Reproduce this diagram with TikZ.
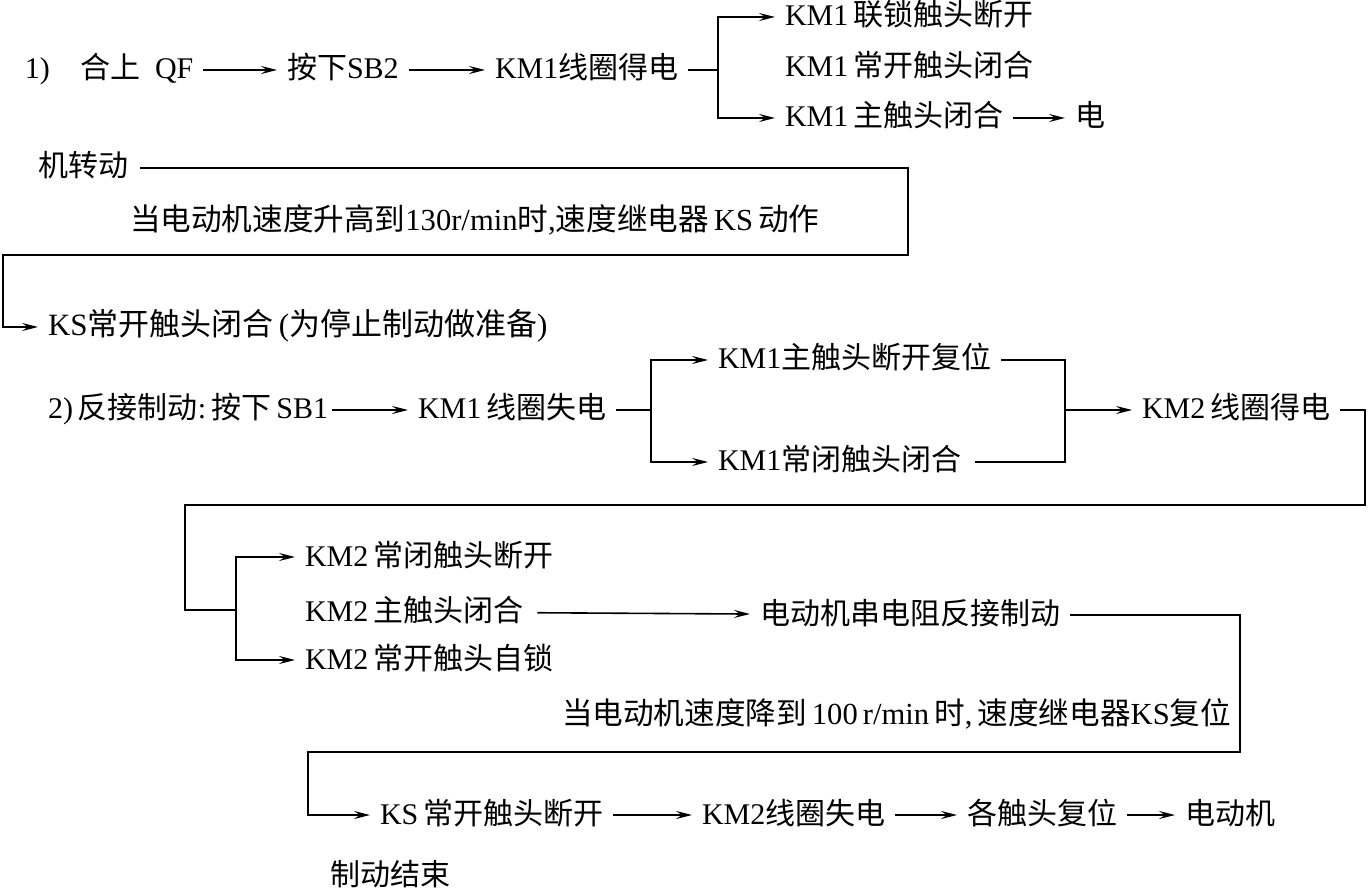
\documentclass[tikz,border=0pt]{standalone}
\usepackage{fontspec}
\setmainfont{Liberation Serif}[Scale=1.0]
\newfontfamily\cjk{Noto Sans CJK SC}
\newcommand\zh[1]{{\cjk #1}}
\usetikzlibrary{arrows.meta}
\begin{document}
\begin{tikzpicture}[x=0.5pt,y=-0.5pt,
  t/.style={inner sep=0pt, outer sep=0pt, anchor=west, font=\fontsize{15}{17}\selectfont, text height=12pt, text depth=3pt},
  big/.style={font=\fontsize{15.3}{18}\selectfont},
  ln/.style={line width=0.8pt},
  arr/.style={ln,-{Stealth[length=8pt,width=4pt,inset=3pt]}, shorten >=5pt},
  nn/.style={arr, shorten <=5pt}]
\useasboundingbox (0,0) rectangle (1369,892);
% row 1
\node[t] (n1) at (25,70) {1)};
\node[t] (hs) at (80,70) {\zh{合上}\ \ QF};
\node[t] (sb2) at (287,70) {\zh{按下}SB2};
\node[t] (km1on) at (495,70) {KM1\zh{线圈得电}};
\coordinate (b1) at (718,70);
\node[t] (lock) at (785,17) {KM1\,\zh{联锁触头断开}};
\node[t] (kmo) at (785,68) {KM1\,\zh{常开触头闭合}};
\node[t] (kmm) at (785,118) {KM1\,\zh{主触头闭合}};
\node[t] (dian) at (1075,118) {\zh{电}};
\draw[nn] (hs) -- (sb2);
\draw[nn] (sb2) -- (km1on);
\draw[ln, shorten <=5pt] (km1on.east) -- (b1);
\draw[arr] (b1) |- (lock.west);
\draw[arr] (b1) |- (kmm.west);
\draw[nn] (kmm) -- (dian);
% motor turns
\node[t] (jzd) at (38,168) {\zh{机转动}};
\node[t,big] (sp1) at (130,222) {\zh{当电动机速度升高到}130r/min\zh{时},\zh{速度继电器}\,KS\,\zh{动作}};
\node[t,font=\fontsize{15.5}{18}\selectfont] (ks) at (48,327) {KS\zh{常开触头闭合}\,(\zh{为停止制动做准备})};
\coordinate (c1) at (908,255);
\coordinate (c2) at (3,255);
\draw[arr, shorten <=6pt] (jzd.east) -| (c1) -- (c2) |- (ks.west);
% row 2
\node[t] (fj) at (48,410) {2)\,\zh{反接制动}:\,\zh{按下}\,SB1};
\node[t] (km1off) at (418,410) {KM1\,\zh{线圈失电}};
\coordinate (b2) at (651,410);
\node[t] (km1brk) at (718,360) {KM1\zh{主触头断开复位}};
\node[t] (km1nc) at (718,462) {KM1\zh{常闭触头闭合}};
\coordinate (j1) at (1065,410);
\node[t] (km2on) at (1142,410) {KM2\,\zh{线圈得电}};
\draw[nn, shorten <=2pt] (fj) -- (km1off);
\draw[ln, shorten <=5pt] (km1off.east) -- (b2);
\draw[arr] (b2) |- (km1brk.west);
\draw[arr] (b2) |- (km1nc.west);
\draw[ln, shorten <=5pt] (km1brk.east) -| (j1);
\draw[ln, shorten <=7pt] (km1nc.east) -| (j1);
\draw[arr] (j1) -- (km2on.west);
% KM2 branch
\coordinate (d1) at (1365,505);
\coordinate (d2) at (185,505);
\coordinate (b3) at (236,610);
\node[t] (km2nc) at (305,557) {KM2\,\zh{常闭触头断开}};
\node[t] (km2m) at (305,612) {KM2\,\zh{主触头闭合}};
\node[t] (km2no) at (305,660) {KM2\,\zh{常开触头自锁}};
\draw[ln, shorten <=5pt] (km2on.east) -| (d1) -- (d2) |- (b3);
\draw[arr] (b3) |- (km2nc.west);
\draw[arr] (b3) |- (km2no.west);
\node[t] (ddj) at (760,615) {\zh{电动机串电阻反接制动}};
\draw[nn, shorten <=7pt] (km2m) -- (ddj);
\node[t,big] (sp2) at (562,715) {\zh{当电动机速度降到}\,100\,r/min\,\zh{时},\,\zh{速度继电器}KS\zh{复位}};
\coordinate (e1) at (1240,752);
\coordinate (e2) at (308,752);
\node[t] (ksoff) at (380,815) {KS\,\zh{常开触头断开}};
\draw[arr, shorten <=5pt] (ddj.east) -| (e1) -- (e2) |- (ksoff.west);
\node[t] (km2off) at (702,815) {KM2\zh{线圈失电}};
\node[t] (gcf) at (967,815) {\zh{各触头复位}};
\node[t] (ddj2) at (1185,815) {\zh{电动机}};
\node[t] (jsh) at (330,876) {\zh{制动结束}};
\draw[nn] (ksoff) -- (km2off);
\draw[nn] (km2off) -- (gcf);
\draw[nn] (gcf) -- (ddj2);
\end{tikzpicture}
\end{document}
